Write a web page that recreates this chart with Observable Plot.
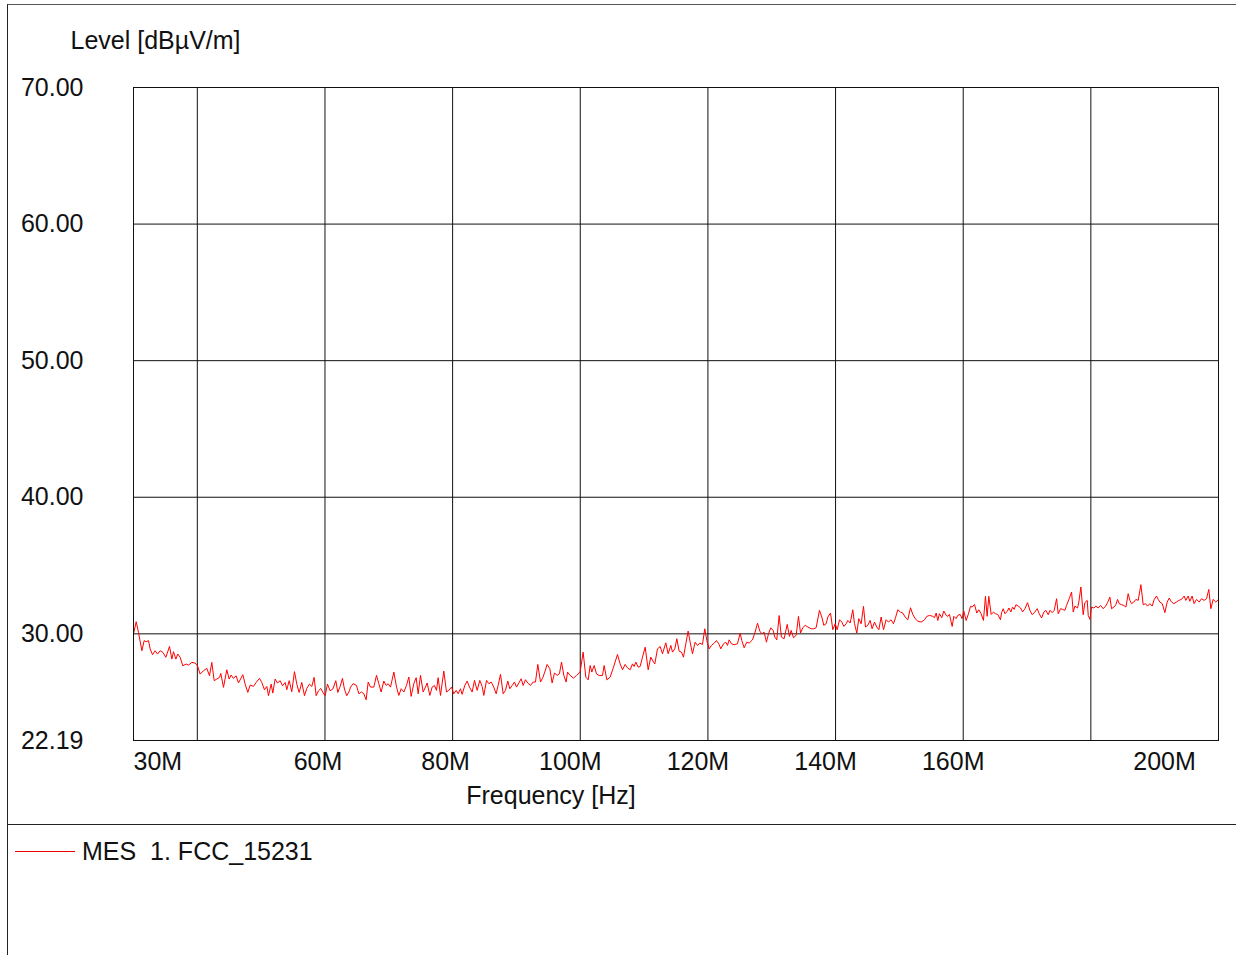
<!DOCTYPE html>
<html>
<head>
<meta charset="utf-8">
<script src="https://cdn.jsdelivr.net/npm/d3@7"></script>
<script src="https://cdn.jsdelivr.net/npm/@observablehq/plot@0.6"></script>
<style>
  html, body { margin: 0; padding: 0; background: #fff; overflow: hidden; }
  body { width: 1236px; height: 955px; position: relative; font-family: "Liberation Sans", Arial, sans-serif; }
  #sheet {
    position: absolute; left: 7px; top: 4px; width: 1240px; height: 960px;
    border-left: 1px solid #222; border-top: 1px solid #555;
  }
  #legend {
    position: relative; border-top: 1px solid #222; height: 140px;
  }
  #legend .swatch {
    position: absolute; left: 7px; top: 26px; width: 60px; height: 0;
    border-top: 1px solid #e00;
  }
  #legend .name {
    position: absolute; left: 74px; top: 12px; font-size: 25px; color: #111;
    white-space: pre;
  }
</style>
</head>
<body>
<div id="sheet">
  <div id="chart"></div>
  <div id="legend"><div class="swatch"></div><div class="name">MES  1. FCC_15231</div></div>
</div>
<script>
// Sweep 30 MHz – 200 MHz, measured field strength
const freqMHz = [
  30.00,30.42,30.78,31.31,31.67,31.98,32.35,32.61,32.98,33.39,33.76,34.18,34.60,35.07,35.64,36.01,36.27,36.63,36.95,37.31,
  37.73,38.25,38.62,39.14,39.66,40.03,40.44,40.97,41.49,41.91,42.27,42.64,43.05,43.47,43.68,44.10,44.62,44.99,45.30,45.67,
  46.08,46.45,47.13,47.49,47.91,48.28,48.80,49.22,49.74,50.10,50.52,50.89,51.15,51.57,51.83,52.19,52.56,52.98,53.34,53.76,
  54.02,54.39,54.80,55.22,55.59,55.95,56.37,56.79,57.15,57.57,57.94,58.30,58.62,58.98,59.35,59.66,60.03,60.39,60.81,61.23,
  61.70,62.01,62.38,62.74,63.05,63.42,63.84,
  64.00,64.42,64.94,65.31,65.72,66.09,66.45,66.77,67.13,67.66,68.07,68.44,68.80,69.22,69.59,69.90,70.27,70.79,71.21,71.57,
  71.94,72.36,72.77,73.14,73.50,73.92,74.29,74.60,74.97,75.38,75.75,76.01,76.43,76.79,77.16,77.47,77.73,78.10,78.62,79.04,
  79.40,79.82,80.19,80.55,80.87,81.23,81.49,81.91,82.28,82.64,83.06,83.43,83.84,84.26,84.63,84.89,85.31,85.67,86.04,86.45,
  86.82,87.13,87.50,87.92,88.28,88.65,88.96,89.33,89.69,90.01,90.37,90.74,91.05,91.42,91.78,92.20,92.62,92.98,93.35,93.77,
  94.13,94.44,94.81,95.23,95.59,95.96,96.38,96.74,97.06,97.42,97.79,
  98.00,98.42,98.94,99.41,99.98,100.45,100.87,101.24,101.55,101.81,102.18,102.54,102.96,103.48,103.74,104.16,104.68,105.21,105.83,106.25,
  106.62,107.03,107.40,107.82,108.18,108.44,108.71,109.07,109.38,109.75,110.17,110.64,111.05,111.47,111.68,112.10,112.52,112.88,113.40,113.77,
  114.19,114.45,114.81,115.13,115.49,115.86,116.17,116.54,116.90,117.22,117.58,118.00,118.37,118.73,119.15,119.51,119.83,120.19,120.56,120.98,
  121.34,121.76,122.02,122.44,122.80,123.07,123.33,123.69,124.11,124.63,125.05,125.31,125.68,126.09,126.46,126.98,127.35,127.77,128.13,128.44,
  128.81,129.17,129.49,129.85,130.22,130.48,130.79,131.16,131.52,131.94,
  132.42,132.78,133.04,133.41,133.83,134.19,134.51,134.87,135.24,135.66,136.18,136.60,136.96,137.48,137.85,138.16,138.53,138.79,139.21,139.57,
  139.94,140.25,140.62,140.98,141.30,141.66,141.92,142.29,142.70,142.97,143.33,143.64,144.01,144.38,144.69,145.05,145.42,145.73,146.10,146.46,
  146.78,147.14,147.51,147.93,148.29,148.71,149.08,149.39,149.75,150.17,150.54,150.90,151.32,151.74,152.10,152.47,152.89,153.41,153.93,154.30,
  154.72,155.24,155.50,155.76,156.02,156.28,156.65,156.96,157.33,157.59,157.85,158.27,158.53,158.89,159.15,159.52,159.83,160.09,160.46,160.82,
  161.14,161.40,161.77,162.13,162.44,162.81,163.17,163.49,163.75,164.01,164.38,164.74,165.05,165.42,165.84,
  166.01,166.27,166.53,166.90,167.16,167.47,167.73,167.99,168.26,168.62,168.99,169.30,169.67,170.08,170.45,170.81,171.23,171.60,171.91,172.28,
  172.64,172.96,173.32,173.58,173.95,174.26,174.63,174.89,175.25,175.57,175.93,176.19,176.61,176.98,177.24,177.50,177.92,178.12,178.44,178.80,
  179.06,179.43,179.59,179.85,180.11,180.48,180.79,181.15,181.52,181.94,182.30,182.62,182.98,183.24,183.61,183.92,184.18,184.44,184.81,185.17,
  185.49,185.85,186.11,186.38,186.74,187.05,187.42,187.84,188.20,188.57,188.88,189.25,189.61,189.93,190.29,190.55,190.81,191.18,191.60,191.96,
  192.28,192.64,193.01,193.42,193.79,194.20,194.62,194.88,195.25,195.51,195.87,196.18,196.55,196.97,197.34,197.75,198.12,198.48,198.80,199.16,
  199.58,200.00
];
const levelDb = [
  29.98,30.89,30.11,28.76,29.50,29.42,29.50,28.89,28.47,28.76,28.52,28.76,28.64,28.28,29.08,28.15,28.69,28.15,28.52,28.28,
  27.66,27.79,27.71,27.91,27.86,27.66,27.05,27.30,27.47,26.93,27.91,26.57,26.69,26.81,27.10,26.08,27.37,26.69,26.98,26.74,
  26.93,26.40,27.01,26.32,25.71,26.25,26.15,26.44,26.74,26.44,25.91,26.15,25.47,26.32,25.66,26.69,26.40,26.57,26.20,26.44,
  25.91,26.57,25.76,27.23,26.32,25.71,26.44,25.47,26.00,26.32,26.15,26.81,25.47,25.83,26.00,25.71,25.47,26.32,25.83,25.96,
  26.57,25.71,26.15,26.74,25.96,25.47,25.83,
  26.10,26.35,26.22,25.61,25.74,25.61,25.17,26.47,26.10,26.10,26.96,26.35,25.74,26.54,26.22,26.35,26.10,27.20,26.10,25.49,
  25.98,25.74,26.22,26.84,25.42,26.35,26.79,25.61,26.96,25.74,26.10,26.40,25.49,26.10,26.22,25.86,26.79,25.49,27.27,25.74,
  25.86,26.10,25.61,25.86,25.61,25.98,25.57,26.22,26.54,26.10,25.74,26.59,25.86,26.59,26.15,25.49,26.59,26.35,26.47,26.10,
  25.61,26.22,27.03,25.61,25.86,26.54,25.98,26.22,26.47,26.10,26.40,26.71,26.22,26.64,26.40,26.22,26.47,26.47,27.76,26.47,
  26.79,27.20,27.76,27.45,26.40,27.13,26.96,27.08,27.93,26.96,26.47,
  27.20,26.95,26.76,26.95,27.20,28.66,26.83,26.63,27.68,27.20,27.68,27.07,26.95,26.95,27.68,26.63,26.83,27.56,28.49,27.80,
  27.37,27.76,27.51,27.37,27.80,27.61,27.93,27.56,27.61,28.29,29.02,27.37,28.29,27.93,27.80,28.90,29.07,28.54,29.34,28.54,
  29.15,28.66,28.90,29.64,28.73,28.66,28.29,29.27,30.20,29.39,28.54,29.39,29.15,29.32,29.22,30.37,29.51,28.90,29.15,29.32,
  29.51,29.22,28.90,29.27,29.39,29.15,29.56,29.27,29.20,29.27,30.05,29.51,28.98,29.39,29.32,29.56,30.05,30.78,30.20,30.00,
  30.12,29.39,30.00,30.44,30.25,29.76,29.56,31.34,29.76,29.64,
  30.69,29.81,30.25,29.71,29.89,31.28,30.06,30.45,30.62,30.50,30.37,30.37,30.45,31.72,31.23,30.62,30.74,31.23,31.52,30.30,
  30.74,30.30,31.03,30.86,30.54,30.74,30.98,30.79,31.76,30.74,30.06,31.11,30.74,32.01,30.50,30.62,30.98,30.37,30.86,30.50,
  30.30,31.23,30.30,31.03,30.86,31.03,30.74,31.18,31.76,31.59,31.52,31.23,31.03,31.91,31.42,31.11,30.93,30.86,31.03,31.28,
  31.35,31.28,31.18,31.52,30.98,31.47,31.18,31.67,31.35,31.28,31.42,30.54,31.28,31.11,31.35,31.42,31.11,31.67,30.98,31.47,
  32.01,31.96,32.15,31.52,31.76,31.47,30.98,32.74,31.28,32.74,31.42,31.59,31.47,31.42,31.03,
  31.55,31.84,31.47,31.64,31.89,31.60,31.96,31.79,32.13,32.03,31.89,31.60,31.84,32.28,31.72,31.40,31.60,31.84,31.47,31.16,
  31.60,31.72,31.40,31.72,31.55,31.72,32.57,31.47,31.84,31.79,31.72,32.08,32.57,33.06,31.60,32.03,31.89,32.33,33.43,31.40,
  32.28,32.45,31.35,31.06,31.96,31.89,32.03,31.89,32.08,31.84,32.03,32.28,32.69,31.84,31.96,32.13,32.52,32.21,32.13,32.08,
  31.96,32.94,32.45,32.21,32.33,32.52,32.45,33.60,32.13,32.21,32.03,32.21,32.03,32.52,32.77,32.52,32.33,32.21,31.55,32.33,
  32.62,32.33,32.21,32.33,32.45,32.52,32.77,32.45,32.77,32.38,32.77,32.21,32.52,32.33,32.57,32.45,32.57,33.25,31.84,32.52,
  32.33,32.52
];

// Axis ticks and grid positions
const yTicks = [22.19, 30, 40, 50, 60, 70];
const yGrid = [30, 40, 50, 60];
const xGrid = [40, 60, 80, 100, 120, 140, 160, 180];
const xTickStart = [30];
const xTickShort = [60, 80];
const xTickLong = [100, 120, 140, 160];
const xTickEnd = [200];

const trace = freqMHz.map((f, i) => ({f, level: levelDb[i]}));
const mhz = d => `${d}M`;
const ink = "#111";

const chart = Plot.plot({
  width: 1228,
  height: 819,
  marginLeft: 125,
  marginTop: 82,
  marginRight: 18,
  marginBottom: 84,
  style: {
    fontFamily: "'Liberation Sans', Arial, sans-serif",
    fontSize: "25px",
    color: ink,
    background: "#fff",
    overflow: "visible"
  },
  x: {domain: [30, 200]},
  y: {domain: [22.19, 70]},
  marks: [
    Plot.gridX(xGrid, {stroke: ink, strokeOpacity: 1}),
    Plot.gridY(yGrid, {stroke: ink, strokeOpacity: 1}),
    Plot.line(trace, {x: "f", y: "level", stroke: "#ff0000", strokeWidth: 1}),
    Plot.frame({stroke: ink}),
    Plot.axisY(yTicks, {tickSize: 0, tickPadding: 50, tickFormat: d => d.toFixed(2), label: null}),
    Plot.axisX(xTickStart, {tickSize: 0, tickPadding: 12, textAnchor: "start", tickFormat: mhz, label: null}),
    Plot.axisX(xTickShort, {tickSize: 0, tickPadding: 12, dx: -7, tickFormat: mhz, label: null}),
    Plot.axisX(xTickLong, {tickSize: 0, tickPadding: 12, dx: -10, tickFormat: mhz, label: null}),
    Plot.axisX(xTickEnd, {tickSize: 0, tickPadding: 12, dx: -54, tickFormat: mhz, label: null}),
    Plot.text(["Level [dBµV/m]"], {frameAnchor: "top-left", textAnchor: "start", lineAnchor: "middle", dx: -63, dy: -47, fill: ink}),
    Plot.text(["Frequency [Hz]"], {frameAnchor: "bottom", textAnchor: "middle", lineAnchor: "middle", dx: -125, dy: 55, fill: ink})
  ]
});
document.getElementById("chart").append(chart);
</script>
</body>
</html>
